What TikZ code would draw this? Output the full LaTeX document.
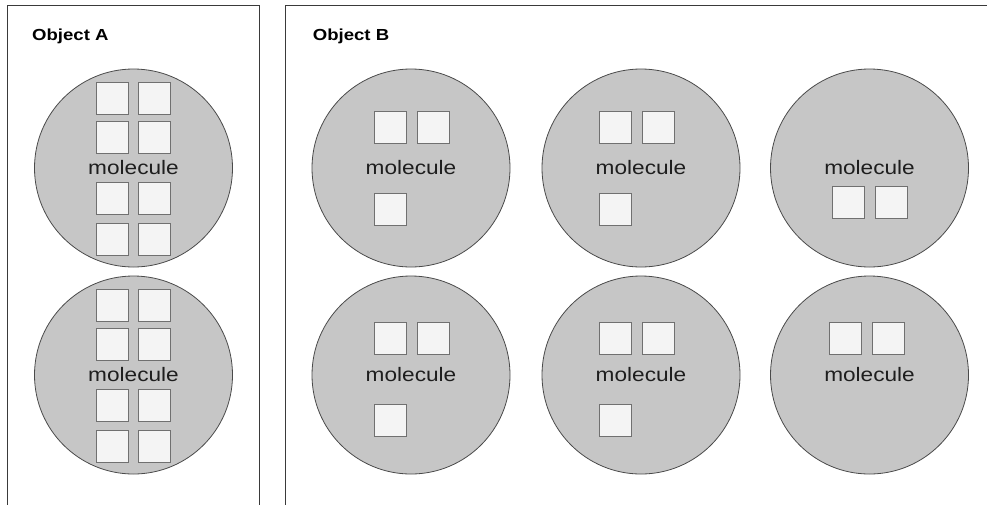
\documentclass[tikz,border=0pt]{standalone}
\usepackage{fontspec}
\setmainfont{Liberation Sans}[FakeStretch=1.16]
\usepackage{tikz}
\usetikzlibrary{calc}
\usepackage{xcolor}
\definecolor{framegray}{HTML}{3A3A3A}
\definecolor{molfill}{HTML}{C6C6C6}
\definecolor{moledge}{HTML}{4A4A4A}
\definecolor{atomfill}{HTML}{F4F4F4}
\definecolor{atomedge}{HTML}{707070}
\definecolor{labelgray}{HTML}{1E1E1E}

\begin{document}
\begin{tikzpicture}[
  x = 1pt, y = -1pt,
  %
  % ── Node styles ─────────────────────────────────────────────────
  panel/.style = {draw=framegray, line width=1pt},
  title/.style = {anchor=base west, inner sep=0pt,
                  font=\fontsize{16}{18}\selectfont\bfseries},
  mol/.style   = {circle, draw=moledge, fill=molfill, line width=0.8pt,
                  minimum size=198pt, inner sep=0pt, text=labelgray,
                  font=\fontsize{19.5}{22}\selectfont},
  atom/.style  = {draw=atomedge, fill=atomfill, line width=0.8pt,
                  minimum size=32pt, inner sep=0pt},
]

\clip (0,0) rectangle (987,504);

%% ═══════════════════════════════════════════════════════════════════
%% PANEL A — two molecules, eight atoms each
%% ═══════════════════════════════════════════════════════════════════

\draw[panel] (7,5.5) rectangle (259,540);
\node[title] (a-title) at (32,40.5) {Object A};

\node[mol] (a-mol1) at (133.5,168) {molecule};
\node[mol] (a-mol2) at (133.5,375) {molecule};

% atoms of a-mol1
\node[atom] (a-mol1-s1) at ($(a-mol1)+(-21.5,-70)$) {};
\node[atom] (a-mol1-s2) at ($(a-mol1)+(20.5,-70)$) {};
\node[atom] (a-mol1-s3) at ($(a-mol1)+(-21.5,-30.5)$) {};
\node[atom] (a-mol1-s4) at ($(a-mol1)+(20.5,-30.5)$) {};
\node[atom] (a-mol1-s5) at ($(a-mol1)+(-21.5,30.5)$) {};
\node[atom] (a-mol1-s6) at ($(a-mol1)+(20.5,30.5)$) {};
\node[atom] (a-mol1-s7) at ($(a-mol1)+(-21.5,71)$) {};
\node[atom] (a-mol1-s8) at ($(a-mol1)+(20.5,71)$) {};

% atoms of a-mol2
\node[atom] (a-mol2-s1) at ($(a-mol2)+(-21.5,-70)$) {};
\node[atom] (a-mol2-s2) at ($(a-mol2)+(20.5,-70)$) {};
\node[atom] (a-mol2-s3) at ($(a-mol2)+(-21.5,-30.5)$) {};
\node[atom] (a-mol2-s4) at ($(a-mol2)+(20.5,-30.5)$) {};
\node[atom] (a-mol2-s5) at ($(a-mol2)+(-21.5,30.5)$) {};
\node[atom] (a-mol2-s6) at ($(a-mol2)+(20.5,30.5)$) {};
\node[atom] (a-mol2-s7) at ($(a-mol2)+(-21.5,71)$) {};
\node[atom] (a-mol2-s8) at ($(a-mol2)+(20.5,71)$) {};

%% ═══════════════════════════════════════════════════════════════════
%% PANEL B — six molecules, two or three atoms each
%% ═══════════════════════════════════════════════════════════════════

\draw[panel] (285,5.5) rectangle (1000,540);
\node[title] (b-title) at (312.7,40.5) {Object B};

% top row
\node[mol] (b-mol1) at (411,168)   {molecule};
\node[mol] (b-mol2) at (641,168)   {molecule};
\node[mol] (b-mol3) at (869.5,168) {molecule};

% bottom row
\node[mol] (b-mol4) at (411,375)   {molecule};
\node[mol] (b-mol5) at (641,375)   {molecule};
\node[mol] (b-mol6) at (869.5,375) {molecule};

%% ── Atoms ────────────────────────────────────────────────────────
\node[atom] (b-mol1-s1) at ($(b-mol1)+(-20.7,-41)$) {};
\node[atom] (b-mol1-s2) at ($(b-mol1)+(22,-41)$) {};
\node[atom] (b-mol1-s3) at ($(b-mol1)+(-20.7,41.3)$) {};

\node[atom] (b-mol2-s1) at ($(b-mol2)+(-25.3,-41)$) {};
\node[atom] (b-mol2-s2) at ($(b-mol2)+(17.5,-41)$) {};
\node[atom] (b-mol2-s3) at ($(b-mol2)+(-25.3,41)$) {};

\node[atom] (b-mol3-s1) at ($(b-mol3)+(-21.2,34)$) {};
\node[atom] (b-mol3-s2) at ($(b-mol3)+(21.5,34)$) {};

\node[atom] (b-mol4-s1) at ($(b-mol4)+(-20.7,-36.5)$) {};
\node[atom] (b-mol4-s2) at ($(b-mol4)+(22,-36.5)$) {};
\node[atom] (b-mol4-s3) at ($(b-mol4)+(-20.7,45)$) {};

\node[atom] (b-mol5-s1) at ($(b-mol5)+(-25.3,-36.5)$) {};
\node[atom] (b-mol5-s2) at ($(b-mol5)+(17.5,-36.5)$) {};
\node[atom] (b-mol5-s3) at ($(b-mol5)+(-25.3,45)$) {};

\node[atom] (b-mol6-s1) at ($(b-mol6)+(-24,-36.3)$) {};
\node[atom] (b-mol6-s2) at ($(b-mol6)+(19,-36.3)$) {};

\end{tikzpicture}
\end{document}
